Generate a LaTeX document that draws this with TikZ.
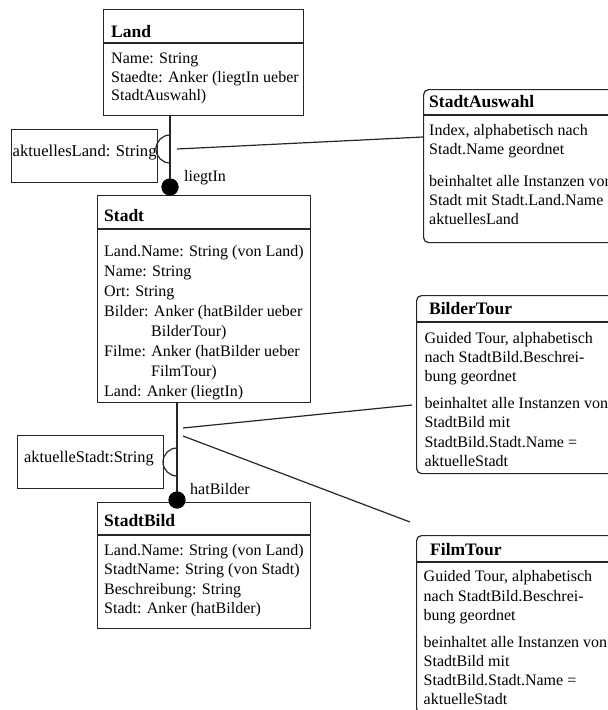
\documentclass[tikz,border=0pt]{standalone}
\usepackage{fontspec}
\setmainfont{Liberation Serif}
\begin{document}
\begin{tikzpicture}[x=1pt,y=-1pt,
  box/.style={draw=black!85, line width=1.2pt, fill=white, anchor=north west, inner sep=0pt},
  tourbox/.style={box, rounded corners=5pt},
  rule/.style={draw=black!85, line width=1.2pt},
  hdr/.style={anchor=base west, inner sep=0pt, font=\fontsize{17.5}{20}\selectfont\bfseries},
  txt/.style={anchor=base west, inner sep=0pt, font=\fontsize{16}{#1}\selectfont},
  txt/.default=19.5,
  wire/.style={draw=black!85, line width=1.2pt},
  joint/.style={circle, fill=black, inner sep=0pt, minimum size=17pt},
  lbl/.style={anchor=base west, inner sep=0pt, font=\fontsize{16}{19}\selectfont},
]
\useasboundingbox (0,0) rectangle (608,710);
\clip (0,0) rectangle (608,710);

% ---------- classes ----------
\node[box, minimum width=200pt, minimum height=106pt] (land) at (103,9) {};
\coordinate (landH) at (103,43);
\draw[rule] (landH) -- (landH -| land.east);
\node[hdr] (landT) at (111,37) {Land};
\node[txt=18.7] (landB) at (111,63.5) {\begin{tabular}[t]{@{}l@{}}Name: String\\Staedte: Anker (liegtIn ueber\\StadtAuswahl)\end{tabular}};

\node[box, minimum width=213pt, minimum height=207pt] (stadt) at (97,195) {};
\coordinate (stadtH) at (97,229);
\draw[rule] (stadtH) -- (stadtH -| stadt.east);
\node[hdr] (stadtT) at (104,221.7) {Stadt};
\node[txt=20] (stadtB) at (104,256) {\begin{tabular}[t]{@{}l@{}}Land.Name: String (von Land)\\Name: String\\Ort: String\\Bilder: Anker (hatBilder ueber\\\hspace*{47pt}BilderTour)\\Filme: Anker (hatBilder ueber\\\hspace*{47pt}FilmTour)\\Land: Anker (liegtIn)\end{tabular}};

\node[box, minimum width=213pt, minimum height=126pt] (bild) at (97,502) {};
\coordinate (bildH) at (97,535);
\draw[rule] (bildH) -- (bildH -| bild.east);
\node[hdr] (bildT) at (104,526.7) {StadtBild};
\node[txt=19.5] (bildB) at (104,555) {\begin{tabular}[t]{@{}l@{}}Land.Name: String (von Land)\\StadtName: String (von Stadt)\\Beschreibung: String\\Stadt: Anker (hatBilder)\end{tabular}};

% ---------- context variables ----------
\node[box, minimum width=146pt, minimum height=53pt] (landVar) at (11,129) {};
\node[txt, font=\fontsize{16.6}{19}\selectfont] (landVarT) at (12.5,156.5) {aktuellesLand: String};

\node[box, minimum width=146pt, minimum height=53pt] (stadtVar) at (17,435) {};
\node[txt, font=\fontsize{16.3}{19}\selectfont] (stadtVarT) at (24,462.7) {aktuelleStadt:String};

% ---------- access structures ----------
\node[tourbox, minimum width=260pt, minimum height=153pt] (auswahl) at (423,89) {};
\coordinate (auswahlH) at (423,115);
\draw[rule] (auswahlH) -- (auswahlH -| auswahl.east);
\node[hdr] (auswahlT) at (429,107.3) {StadtAuswahl};
\node[txt=19] (auswahlB) at (429,135) {\begin{tabular}[t]{@{}l@{}}Index, alphabetisch nach\\Stadt.Name geordnet\\[13pt]beinhaltet alle Instanzen von\\Stadt mit Stadt.Land.Name =\\aktuellesLand\end{tabular}};

\node[tourbox, minimum width=260pt, minimum height=178pt] (bilder) at (416,295) {};
\coordinate (bilderH) at (416,322);
\draw[rule] (bilderH) -- (bilderH -| bilder.east);
\node[hdr] (bilderT) at (429,314.3) {BilderTour};
\node[txt=19.3] (bilderB) at (424.3,343.3) {\begin{tabular}[t]{@{}l@{}}Guided Tour, alphabetisch\\nach StadtBild.Beschrei-\\bung geordnet\\[7.3pt]beinhaltet alle Instanzen von\\StadtBild mit\\StadtBild.Stadt.Name =\\aktuelleStadt\end{tabular}};

\node[tourbox, minimum width=260pt, minimum height=178pt] (film) at (416,535) {};
\coordinate (filmH) at (416,562);
\draw[rule] (filmH) -- (filmH -| film.east);
\node[hdr] (filmT) at (430,555) {FilmTour};
\node[txt=19.3] (filmB) at (423.5,581.7) {\begin{tabular}[t]{@{}l@{}}Guided Tour, alphabetisch\\nach StadtBild.Beschrei-\\bung geordnet\\[7.4pt]beinhaltet alle Instanzen von\\StadtBild mit\\StadtBild.Stadt.Name =\\aktuelleStadt\end{tabular}};

% ---------- relationship liegtIn ----------
\node[joint] (liegtIn) at (170,187) {};
\draw[wire] (liegtIn |- land.south) -- (liegtIn |- stadt.north);
\coordinate (sockA) at (170,135);
\draw[wire] (sockA) arc[start angle=90, end angle=270, radius=14pt];
\coordinate (tapA) at (177,149);
\draw[wire] (tapA) -- ([yshift=-48pt]auswahl.north west);
\node[joint] at (liegtIn) {};
\node[lbl] (liegtInL) at (184,181.5) {liegtIn};

% ---------- relationship hatBilder ----------
\node[joint] (hatBilder) at (177,500) {};
\draw[wire] (hatBilder |- stadt.south) -- (hatBilder |- bild.north);
\coordinate (sockB) at (177,448);
\draw[wire] (sockB) arc[start angle=90, end angle=270, radius=14pt];
\coordinate (tapB1) at (183,428);
\coordinate (tapB2) at (183,436);
\draw[wire] (tapB1) -- ([xshift=-4pt, yshift=-110pt]bilder.north west);
\draw[wire] (tapB2) -- ([xshift=-6pt, yshift=13pt]film.north west);
\node[joint] at (hatBilder) {};
\node[lbl] (hatBilderL) at (190,494.3) {hatBilder};
\end{tikzpicture}
\end{document}
